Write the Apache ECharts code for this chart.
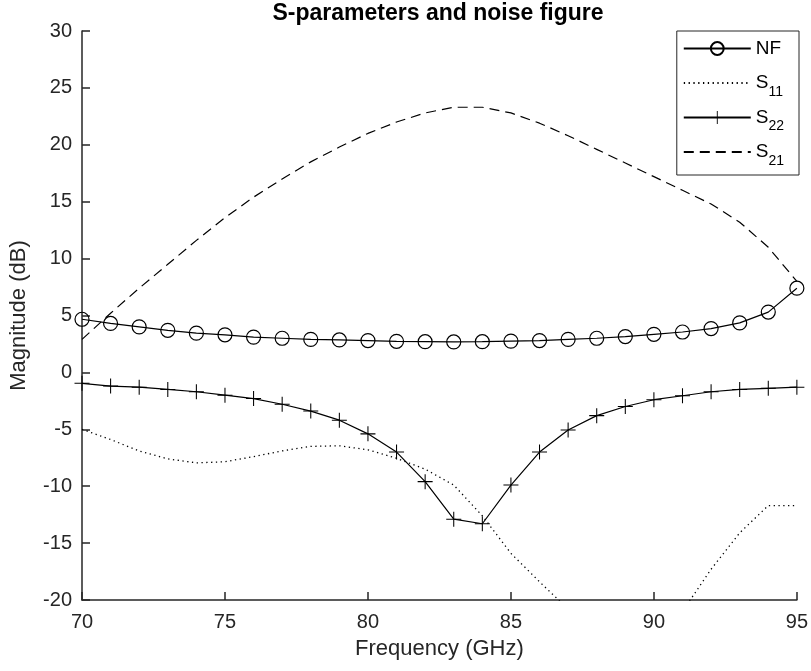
<!DOCTYPE html>
<html>
<head>
<meta charset="utf-8">
<script src="https://cdn.jsdelivr.net/npm/echarts@6/dist/echarts.min.js"></script>
<style>
  html, body { margin: 0; padding: 0; background: #fff; }
  #chart { width: 811px; height: 671px; }
</style>
</head>
<body>
<div id="chart"></div>
<script>
// frequency points (GHz)
var freq = [70, 71, 72, 73, 74, 75, 76, 77, 78, 79, 80, 81, 82, 83, 84, 85, 86, 87, 88, 89, 90, 91, 92, 93, 94, 95];

// noise figure (dB)
var nf = [4.67, 4.3, 4.0, 3.7, 3.45, 3.3, 3.1, 3.0, 2.9, 2.85, 2.8, 2.73, 2.7, 2.68, 2.7, 2.75, 2.8, 2.9, 3.0, 3.15, 3.35, 3.55, 3.85, 4.35, 5.3, 7.4];
// S11 (dB), dips below the axis floor between 87 and 91 GHz
var s11 = [-5.0, -5.9, -6.9, -7.6, -7.95, -7.85, -7.4, -6.9, -6.5, -6.45, -6.8, -7.55, -8.5, -9.9, -12.6, -15.9, -18.4, -20.8, -24, -27, -25, -21.0, -17.3, -14.1, -11.7, -11.7];
// S22 (dB)
var s22 = [-0.96, -1.2, -1.3, -1.5, -1.7, -2.0, -2.3, -2.8, -3.4, -4.2, -5.4, -7.0, -9.6, -12.9, -13.3, -9.9, -7.0, -5.06, -3.8, -3.0, -2.4, -2.05, -1.7, -1.5, -1.4, -1.3];
// S21 (dB)
var s21 = [2.9, 5.2, 7.4, 9.5, 11.6, 13.6, 15.4, 17.0, 18.5, 19.8, 21.0, 22.0, 22.8, 23.3, 23.3, 22.8, 21.9, 20.8, 19.6, 18.4, 17.2, 16.0, 14.8, 13.2, 11.0, 8.0];

var legendNames = ['NF', 'S11', 'S22', 'S21'];
var noMarker = ['S11', 'S21'];

function pairs(vals) {
    return freq.map(function (f, i) { return [f, vals[i]]; });
}

var FONT = '"Liberation Sans", Arial, Helvetica, sans-serif';
var TXT = '#262626';
var crossPath = 'path://M9.3,0h1.4v20h-1.4z M0,9.3h20v1.4h-20z';

var chart = echarts.init(document.getElementById('chart'));

chart.setOption({
    animation: false,
    backgroundColor: '#fff',
    title: {
        text: 'S-parameters and noise figure',
        left: 438,
        top: 2,
        textAlign: 'center',
        padding: 0,
        textStyle: { fontFamily: FONT, fontSize: 23, fontWeight: 'bold', color: '#000' }
    },
    grid: { left: 77, right: 12, top: 31, bottom: 71 },
    legend: {
        data: legendNames.map(function (n) {
            return noMarker.indexOf(n) >= 0 ? { name: n, itemStyle: { opacity: 0 } } : { name: n };
        }),
        orient: 'vertical',
        right: 12,
        top: 31,
        padding: [8, 14, 7, 6],
        itemGap: 9,
        itemWidth: 67,
        itemHeight: 16,
        backgroundColor: '#fff',
        borderColor: TXT,
        borderWidth: 1,
        borderRadius: 0,
        textStyle: {
            fontFamily: FONT, fontSize: 19, color: '#000',
            rich: {
                s: { fontFamily: FONT, fontSize: 19, color: '#000' },
                n: { fontFamily: FONT, fontSize: 14, color: '#000', padding: [18, 0, 0, 0] }
            }
        },
        formatter: function (name) {
            if (name === 'NF') return '{s|NF}{n| }';
            return '{s|S}{n|' + name.slice(1) + '}';
        }
    },
    xAxis: {
        type: 'value',
        min: 70,
        max: 95,
        interval: 5,
        name: 'Frequency (GHz)',
        nameLocation: 'middle',
        nameGap: 38,
        nameTextStyle: { fontFamily: FONT, fontSize: 22, color: TXT },
        axisLine: { show: true, onZero: false, lineStyle: { color: TXT, width: 1.5 } },
        axisTick: { show: true, inside: true, length: 8, lineStyle: { color: TXT, width: 1.5 } },
        axisLabel: { fontFamily: FONT, fontSize: 20, color: TXT, margin: 12 },
        splitLine: { show: false }
    },
    yAxis: {
        type: 'value',
        min: -20,
        max: 30,
        interval: 5,
        name: 'Magnitude (dB)',
        nameLocation: 'middle',
        nameGap: 52,
        nameTextStyle: { fontFamily: FONT, fontSize: 22, color: TXT },
        axisLine: { show: true, onZero: false, lineStyle: { color: TXT, width: 1.5 } },
        axisTick: { show: true, inside: true, length: 8, lineStyle: { color: TXT, width: 1.5 } },
        axisLabel: { fontFamily: FONT, fontSize: 20, color: TXT, margin: 10 },
        splitLine: { show: false }
    },
    series: [
        {
            name: 'NF',
            type: 'line',
            data: pairs(nf),
            symbol: 'circle',
            symbolSize: 14,
            itemStyle: { color: 'rgba(0,0,0,0)', borderColor: '#000', borderWidth: 1.2 },
            lineStyle: { color: '#000', width: 1.2 }
        },
        {
            name: 'S11',
            type: 'line',
            data: pairs(s11),
            symbol: 'none',
            itemStyle: { color: '#000' },
            lineStyle: { color: '#000', width: 1.3, type: [1.3, 3.5] }
        },
        {
            name: 'S22',
            type: 'line',
            data: pairs(s22),
            symbol: crossPath,
            symbolSize: 15,
            itemStyle: { color: '#000' },
            lineStyle: { color: '#000', width: 1.2 }
        },
        {
            name: 'S21',
            type: 'line',
            data: pairs(s21),
            symbol: 'none',
            itemStyle: { color: '#000' },
            lineStyle: { color: '#000', width: 1.2, type: [10, 6] }
        }
    ]
});
</script>
</body>
</html>
